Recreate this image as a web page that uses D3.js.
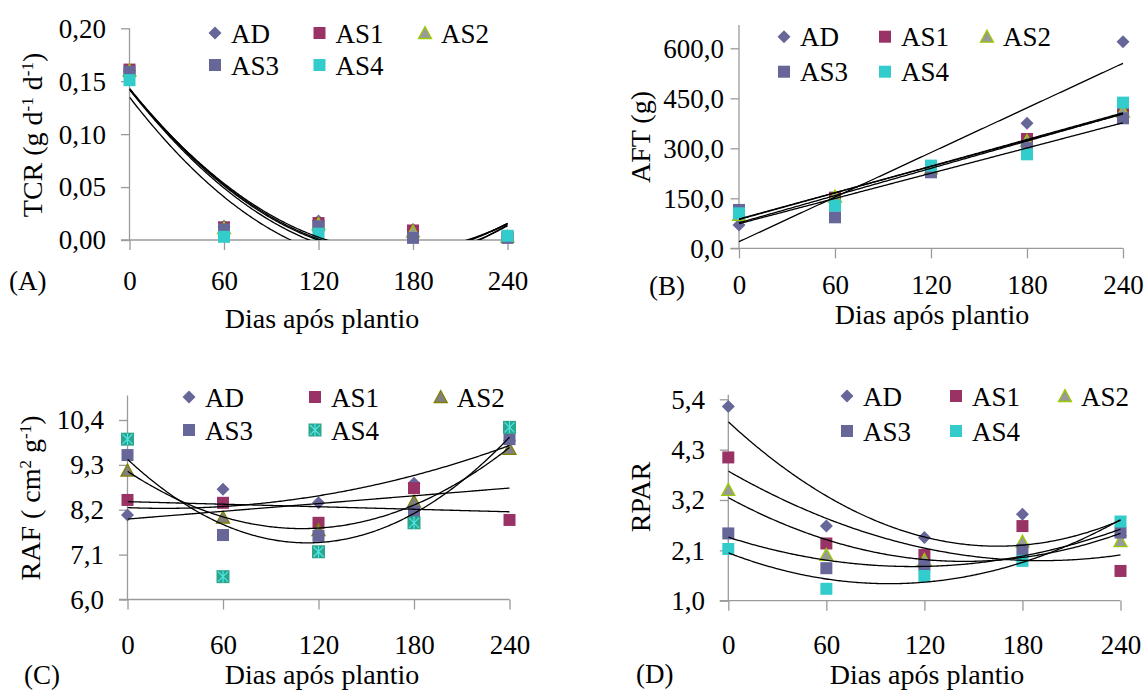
<!DOCTYPE html>
<html><head><meta charset="utf-8">
<script src="https://cdn.jsdelivr.net/npm/d3@7"></script>
<style>
body{margin:0;background:#fff}
svg{display:block}
text{font-family:"Liberation Serif","Times New Roman",serif;fill:#000}
</style>
</head><body>
<svg id="chart" width="1147" height="691"></svg>
<script>
// ---------- DATA ----------
const days = [0, 60, 120, 180, 240];
const seriesNames = ["AD", "AS1", "AS2", "AS3", "AS4"];

// (A) TCR (g d-1 d-1)
const tcrAD  = [0.160, 0.013, 0.018, 0.010, 0.003];
const tcrAS1 = [0.161, 0.012, 0.016, 0.009, 0.003];
const tcrAS2 = [0.160, 0.011, 0.015, 0.008, 0.003];
const tcrAS3 = [0.159, 0.010, 0.013, 0.002, 0.002];
const tcrAS4 = [0.151, 0.003, 0.006, -0.004, 0.004];
const tcrTicks = [0, 0.05, 0.10, 0.15, 0.20];

// (B) AFT (g)
const aftAD  = [70, 137, 235, 375, 620];
const aftAS1 = [100, 152, 240, 328, 412];
const aftAS2 = [100, 155, 240, 322, 410];
const aftAS3 = [115, 93, 228, 300, 390];
const aftAS4 = [105, 128, 248, 282, 437];
const aftTicks = [0, 150, 300, 450, 600];

// (C) RAF (cm2 g-1)
const rafAD  = [8.07, 8.70, 8.37, 8.85, 9.90];
const rafAS1 = [8.44, 8.37, 7.88, 8.73, 7.95];
const rafAS2 = [9.16, 8.01, 7.70, 8.40, 9.69];
const rafAS3 = [9.54, 7.58, 7.56, 8.15, 9.93];
const rafAS4 = [9.93, 6.56, 7.17, 7.88, 10.22];
const rafTicks = [6.0, 7.1, 8.2, 9.3, 10.4];

// (D) RPAR
const rparAD  = [5.24, 2.63, 2.38, 2.89, 2.42];
const rparAS1 = [4.13, 2.25, 2.00, 2.63, 1.65];
const rparAS2 = [3.42, 2.00, 1.89, 2.29, 2.30];
const rparAS3 = [2.47, 1.71, 1.78, 2.11, 2.49];
const rparAS4 = [2.13, 1.26, 1.54, 1.87, 2.73];
const rparTicks = [1.0, 2.1, 3.2, 4.3, 5.4];

// trendline polynomial degree per series
const degA = [2, 2, 2, 2, 2];
const degB = [1, 1, 1, 1, 1];
const degC = [2, 1, 2, 2, 1];
const degD = [2, 2, 2, 2, 2];

// ---------- HELPERS ----------
const loc = d3.formatLocale({decimal: ",", thousands: ".", grouping: [3], currency: ["", ""]});

function polyfit(xs, ys, deg) {
  const pts = xs.map((x, i) => [x, ys[i]]).filter(p => p[1] != null);
  const n = deg + 1;
  const A = [], b = [];
  for (let j = 0; j < n; j++) {
    A.push([]);
    for (let k = 0; k < n; k++) A[j].push(d3.sum(pts, p => Math.pow(p[0], j + k)));
    b.push(d3.sum(pts, p => p[1] * Math.pow(p[0], j)));
  }
  for (let i = 0; i < n; i++) {
    let m = i;
    for (let r = i + 1; r < n; r++) if (Math.abs(A[r][i]) > Math.abs(A[m][i])) m = r;
    [A[i], A[m]] = [A[m], A[i]]; [b[i], b[m]] = [b[m], b[i]];
    for (let r = i + 1; r < n; r++) {
      const f = A[r][i] / A[i][i];
      for (let c = i; c < n; c++) A[r][c] -= f * A[i][c];
      b[r] -= f * b[i];
    }
  }
  const co = new Array(n).fill(0);
  for (let i = n - 1; i >= 0; i--) {
    let s = b[i];
    for (let c = i + 1; c < n; c++) s -= A[i][c] * co[c];
    co[i] = s / A[i][i];
  }
  return x => co.reduce((acc, c, i) => acc + c * Math.pow(x, i), 0);
}

const svg = d3.select("#chart");
const FS = 27;

function marker(g, type, cx, cy, style) {
  if (type === "diamond") {
    const r = 6.5;
    g.append("path").attr("d", `M${cx},${cy - r}L${cx + r},${cy}L${cx},${cy + r}L${cx - r},${cy}Z`)
      .attr("fill", "#666699");
  } else if (type === "square") {
    g.append("rect").attr("x", cx - 6).attr("y", cy - 6).attr("width", 12).attr("height", 12)
      .attr("fill", style.fill);
  } else if (type === "triangle") {
    g.append("path").attr("d", `M${cx},${cy - 6.5}L${cx + 6.5},${cy + 5.5}L${cx - 6.5},${cy + 5.5}Z`)
      .attr("fill", style.fill).attr("stroke", style.stroke).attr("stroke-width", 1.3);
  } else if (type === "star") {
    g.append("rect").attr("x", cx - 6.5).attr("y", cy - 6.5).attr("width", 13).attr("height", 13)
      .attr("fill", "#2ca58d");
    const s = "#4ee6e6";
    g.append("path").attr("d",
      `M${cx - 5},${cy - 5}L${cx + 5},${cy + 5}M${cx - 5},${cy + 5}L${cx + 5},${cy - 5}M${cx},${cy - 6}L${cx},${cy + 6}`)
      .attr("stroke", s).attr("stroke-width", 1.2);
  }
}

function markerSpec(name, variant) {
  switch (name) {
    case "AD": return {type: "diamond"};
    case "AS1": return {type: "square", fill: "#993366"};
    case "AS2": return variant === "C"
      ? {type: "triangle", fill: "#808080", stroke: "#808000"}
      : {type: "triangle", fill: "#999999", stroke: "#99cc00"};
    case "AS3": return {type: "square", fill: "#666699"};
    case "AS4": return variant === "C" ? {type: "star"} : {type: "square", fill: "#33cccc"};
  }
}

function drawPanel(p) {
  const g = svg.append("g");
  const x = d3.scaleLinear().domain([0, 240]).range([p.x0, p.x1]);
  const y = d3.scaleLinear().domain([p.ticks[0], p.ticks[p.ticks.length - 1]]).range([p.yb, p.yt]);
  const axisColor = "#9a9a9a";

  // y axis
  const ya = g.append("g").attr("transform", `translate(${p.x0},0)`)
    .call(d3.axisLeft(y).tickValues(p.ticks).tickSize(8.5).tickSizeOuter(0).tickFormat(loc.format(p.fmt)));
  ya.select(".domain").remove();
  ya.selectAll(".tick line").attr("stroke", axisColor).attr("stroke-width", 1.3);
  ya.selectAll(".tick text").attr("x", p.ylabX - p.x0).attr("dy", "0.33em")
    .attr("font-size", FS).attr("font-family", "Liberation Serif").attr("fill", "#000");
  g.append("line").attr("x1", p.x0).attr("x2", p.x0).attr("y1", y(p.axisTop)).attr("y2", p.yb)
    .attr("stroke", axisColor).attr("stroke-width", 1.3);

  // x axis
  const xa = g.append("g").attr("transform", `translate(0,${p.yb})`)
    .call(d3.axisBottom(x).tickValues(days).tickSize(10).tickSizeOuter(0).tickFormat(d3.format("d")));
  xa.select(".domain").remove();
  xa.selectAll(".tick line").attr("stroke", axisColor).attr("stroke-width", 1.3);
  xa.selectAll(".tick text").attr("y", p.xlabY - p.yb).attr("dy", 0)
    .attr("font-size", FS).attr("font-family", "Liberation Serif").attr("fill", "#000");
  g.append("line").attr("x1", p.x0 - 8.5).attr("x2", p.x1).attr("y1", p.yb).attr("y2", p.yb)
    .attr("stroke", axisColor).attr("stroke-width", 1.3);

  // markers (points outside the axis range are not drawn)
  const mg = g.append("g");
  const [lo, hi] = [p.ticks[0], p.axisTop];
  p.vals.forEach((vals, si) => {
    const spec = markerSpec(seriesNames[si], p.id);
    vals.forEach((v, i) => {
      if (v == null || v < lo || v > hi) return;
      marker(mg, spec.type, x(days[i]), y(v), spec);
    });
  });

  // trendlines
  const clipId = "clip" + p.id;
  g.append("clipPath").attr("id", clipId).append("rect")
    .attr("x", p.x0).attr("y", y(p.axisTop)).attr("width", p.x1 - p.x0 + 1).attr("height", p.yb - y(p.axisTop));
  const lg = g.append("g").attr("clip-path", `url(#${clipId})`);
  const xsSample = d3.range(0, 240.5, 1);
  p.vals.forEach((vals, si) => {
    const f = polyfit(days, vals, p.deg[si]);
    const line = d3.line().x(d => x(d)).y(d => y(f(d)));
    lg.append("path").attr("d", line(xsSample)).attr("fill", "none")
      .attr("stroke", "#000").attr("stroke-width", 1.3);
  });

  // legend
  const leg = g.append("g");
  const pos = [[0, 0], [1, 0], [2, 0], [0, 1], [1, 1]];
  seriesNames.forEach((nm, si) => {
    const cx = p.legCols[pos[si][0]], cy = p.legRows[pos[si][1]];
    const spec = markerSpec(nm, p.id);
    marker(leg, spec.type, cx, cy, spec);
    leg.append("text").attr("x", cx + 16).attr("y", cy + 9.5).attr("font-size", FS).text(nm);
  });

  // panel letter
  g.append("text").attr("x", p.letter[0]).attr("y", p.letter[1]).attr("font-size", FS).text("(" + p.id + ")");
  // x title
  g.append("text").attr("x", p.xt[0]).attr("y", p.xt[1]).attr("text-anchor", "middle")
    .attr("font-size", 28).text("Dias após plantio");
  // y title
  const yt = g.append("text").attr("transform", `translate(${p.yTitle[0]},${p.yTitle[1]}) rotate(-90)`)
    .attr("text-anchor", "middle").attr("font-size", 28);
  p.yTitleParts.forEach(part => {
    const t = yt.append("tspan").text(part[0]);
    if (part[1] === "sup") t.attr("font-size", 17).attr("baseline-shift", "super");
  });
}

const panels = [
  {id: "A", vals: [tcrAD, tcrAS1, tcrAS2, tcrAS3, tcrAS4], deg: degA, ticks: tcrTicks, fmt: ".2f",
   axisTop: 0.20, x0: 129.5, x1: 507.5, yb: 240, yt: 28.3, ylabX: 106, xlabY: 290,
   legCols: [215, 319.5, 425], legRows: [33, 65], letter: [9, 290], xt: [322, 328], yTitle: [42, 135],
   yTitleParts: [["TCR (g d"], ["-1", "sup"], [" d"], ["-1", "sup"], [")"]]},
  {id: "B", vals: [aftAD, aftAS1, aftAS2, aftAS3, aftAS4], deg: degB, ticks: aftTicks, fmt: ".1f",
   axisTop: 670, x0: 739, x1: 1123, yb: 248.3, yt: 48.3, ylabX: 724, xlabY: 294,
   legCols: [784, 885, 987], legRows: [36.7, 71.7], letter: [649, 295], xt: [932, 324], yTitle: [650, 137],
   yTitleParts: [["AFT (g)"]]},
  {id: "C", vals: [rafAD, rafAS1, rafAS2, rafAS3, rafAS4], deg: degC, ticks: rafTicks, fmt: ".1f",
   axisTop: 11.0, x0: 127.5, x1: 509.5, yb: 599.5, yt: 420, ylabX: 104, xlabY: 654,
   legCols: [189, 315, 440.7], legRows: [397, 430], letter: [24, 684], xt: [322, 684], yTitle: [40, 498],
   yTitleParts: [["RAF ( cm"], ["2", "sup"], [" g"], ["-1", "sup"], [")"]]},
  {id: "D", vals: [rparAD, rparAS1, rparAS2, rparAS3, rparAS4], deg: degD, ticks: rparTicks, fmt: ".1f",
   axisTop: 5.5, x0: 728.3, x1: 1120.5, yb: 600.7, yt: 399.3, ylabX: 705, xlabY: 654,
   legCols: [847, 956, 1065], legRows: [396, 431], letter: [636, 683], xt: [927, 684], yTitle: [650, 497],
   yTitleParts: [["RPAR"]]}
];

panels.forEach(drawPanel);
</script>
</body></html>
